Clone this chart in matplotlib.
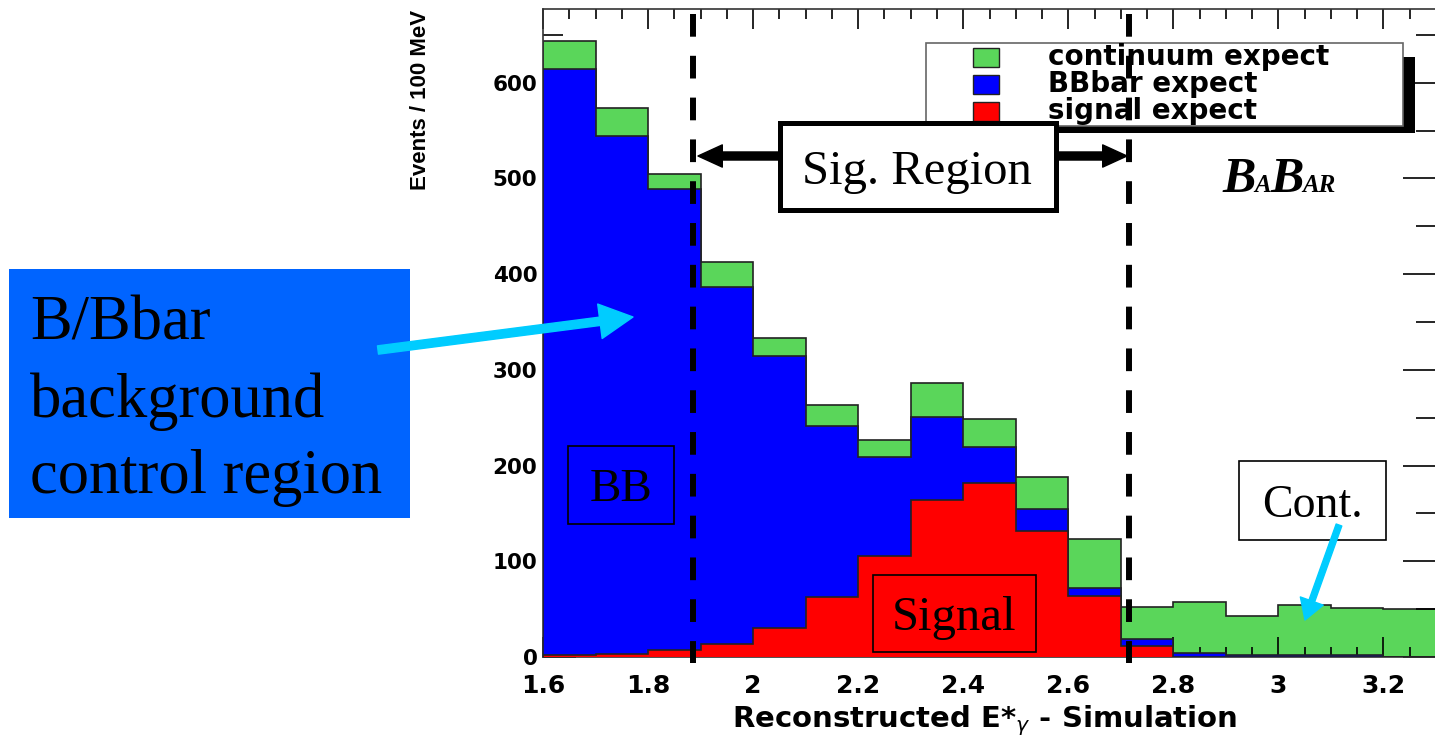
import numpy as np
import matplotlib
matplotlib.use('Agg')
import matplotlib.pyplot as plt
import matplotlib.transforms as mtransforms
from matplotlib.patches import Rectangle, FancyArrowPatch
from matplotlib.ticker import MultipleLocator, FormatStrFormatter

W, H = 1435, 740                      # output size in pixels

# histogram, 100 MeV bins
edges = [1.6, 1.7, 1.8, 1.9, 2.0, 2.1, 2.2, 2.3, 2.4, 2.5, 2.6, 2.7, 2.8, 2.9, 3.0, 3.1, 3.2, 3.3]
signal = [2, 3, 7, 14, 30, 63, 105, 164, 182, 132, 64, 11, 0, 0, 0, 0, 0]
bbar = [612, 541, 482, 373, 284, 178, 104, 87, 37, 23, 8, 8, 4, 2, 2, 2, 0]
continuum = [30, 30, 16, 26, 19, 22, 18, 35, 30, 33, 51, 33, 53, 41, 52, 49, 50]
xticks = [1.6, 1.8, 2.0, 2.2, 2.4, 2.6, 2.8, 3.0, 3.2]
yticks = [0, 100, 200, 300, 400, 500, 600]
sig_lo, sig_hi = 1.885, 2.715          # signal region limits (dashed lines)
legend_labels = ['continuum expect', 'BBbar expect', 'signal expect']

green = '#5ad65a'
blue = '#0000ff'
red = '#ff0000'
box_blue = '#0064ff'
cyan = '#00ccff'
serif = 'Liberation Serif'

fig = plt.figure(figsize=(W / 100, H / 100), dpi=100)
ax = fig.add_axes([543 / W, 83 / H, (1436 - 543) / W, (657 - 9) / H])
# pixel coords measured from the top-left corner of the picture
px = mtransforms.Affine2D().scale(1 / W, -1 / H).translate(0, 1) + fig.transFigure

sig = np.array(signal)
bb = sig + np.array(bbar)
tot = bb + np.array(continuum)
ax.stairs(tot, edges, fill=True, facecolor=green, edgecolor='#222', linewidth=1.2, zorder=1)
ax.stairs(bb, edges, fill=True, facecolor=blue, edgecolor='#222', linewidth=1.2, zorder=3)
ax.stairs(sig, edges, fill=True, facecolor=red, edgecolor='#222', linewidth=1.2, zorder=3.1)

ax.set_xlim(1.6, 3.3)
ax.set_ylim(0, 677)
ax.set_xticks(xticks)
ax.set_yticks(yticks)
ax.xaxis.set_minor_locator(MultipleLocator(0.05))
ax.yaxis.set_minor_locator(MultipleLocator(50))
ax.xaxis.set_major_formatter(FormatStrFormatter('%g'))
ax.tick_params(axis='x', which='major', direction='in', length=14.4, width=1.2, top=True, labelsize=18, pad=12)
ax.tick_params(axis='x', which='minor', direction='in', length=7.2, width=1.2, top=True)
ax.tick_params(axis='y', which='major', direction='in', length=23.8, width=1.2, right=True, labelsize=15.5, pad=4)
ax.tick_params(axis='y', which='minor', direction='in', length=14.4, width=1.2, right=True)
for lab in ax.get_xticklabels() + ax.get_yticklabels():
    lab.set_fontweight('bold')
for s in ax.spines.values():
    s.set_linewidth(1.2)
    s.set_color('#333')

# axis titles
ax.text(420, 100, 'Events / 100 MeV', transform=px, rotation=90, ha='center', va='center',
        fontsize=16, fontweight='bold', family='Liberation Sans', clip_on=False)
ax.text(985, 727, r'Reconstructed E*$_{\gamma}$ - Simulation', transform=px, ha='center',
        va='baseline', fontsize=21, fontweight='bold', clip_on=False)

# signal region lines
for xv in (sig_lo, sig_hi):
    ax.plot([xv, xv], [672, -6], color='black', lw=4.3, dashes=(3.8, 3.2), zorder=6, clip_on=False)

# legend with black shadow
ax.add_artist(Rectangle((943, 57), 472, 76, transform=px, fc='black', ec='none', zorder=5, clip_on=False))
ax.add_artist(Rectangle((926, 43), 477, 83, transform=px, fc='white', ec='#666', lw=1.2, zorder=5.1, clip_on=False))
for i, (lab, col) in enumerate(zip(legend_labels, [green, blue, red])):
    ax.add_artist(Rectangle((973, 48 + 27 * i), 26, 19, transform=px, fc=col, ec='#222', lw=1,
                            zorder=5.2, clip_on=False))
    ax.text(1048, 65 + 27 * i, lab, transform=px, va='baseline', fontsize=20, fontweight='bold',
            zorder=5.2, clip_on=False)

# Sig. Region box and arrows
ax.add_artist(Rectangle((780, 123), 276, 87, transform=px, fc='white', ec='black', lw=3.6, zorder=7, clip_on=False))
ax.text(917, 184, 'Sig. Region', transform=px, ha='center', va='baseline', fontsize=35, family=serif,
        zorder=7.1, clip_on=False)
for a, b in [((780, 156), (698, 156)), ((1056, 156), (1127, 156))]:
    ax.add_artist(FancyArrowPatch(a, b, transform=px, arrowstyle='simple,head_length=1.75,head_width=1.6,tail_width=0.58',
                                  mutation_scale=10, color='black', shrinkA=0, shrinkB=0, zorder=7, clip_on=False))

# BaBar logo
for txt, xl, fs in [('B', 1222, 36), ('A', 1254, 18), ('B', 1270, 36), ('AR', 1302, 18)]:
    ax.text(xl, 192, txt, transform=px, va='baseline', fontsize=fs, family=serif, fontweight='bold',
            style='italic', zorder=5, clip_on=False)

# boxes inside the plot
for (x0, y0, w, h), txt, fs in [((568, 446, 106, 78), 'BB', 34),
                                ((873, 575, 163, 77), 'Signal', 35),
                                ((1239, 461, 147, 79), 'Cont.', 33)]:
    fc = 'white' if txt == 'Cont.' else 'none'
    ax.add_artist(Rectangle((x0, y0), w, h, transform=px, fc=fc, ec='black', lw=1.2, zorder=4, clip_on=False))
    ax.text(x0 + w / 2, y0 + h / 2, txt, transform=px, ha='center', va='center_baseline', fontsize=fs,
            family=serif, zorder=4.1, clip_on=False)

# B/Bbar control region label
ax.add_artist(Rectangle((9, 269), 401, 249, transform=px, fc=box_blue, ec='none', zorder=4, clip_on=False))
for txt, yb in [('B/Bbar', 340), ('background', 417), ('control region', 493)]:
    ax.text(30, yb, txt, transform=px, va='baseline', fontsize=45, family=serif, zorder=4.1, clip_on=False)

# cyan arrows
ax.add_artist(FancyArrowPatch((378, 350), (633, 317), transform=px,
                              arrowstyle='simple,head_length=2.4,head_width=2.5,tail_width=0.6',
                              mutation_scale=10, color=cyan, shrinkA=0, shrinkB=0, zorder=8, clip_on=False))
ax.add_artist(FancyArrowPatch((1339, 525), (1305, 620), transform=px,
                              arrowstyle='simple,head_length=1.45,head_width=1.75,tail_width=0.43',
                              mutation_scale=10, color=cyan, shrinkA=0, shrinkB=0, zorder=8, clip_on=False))

fig.savefig('out.png', dpi=100)
